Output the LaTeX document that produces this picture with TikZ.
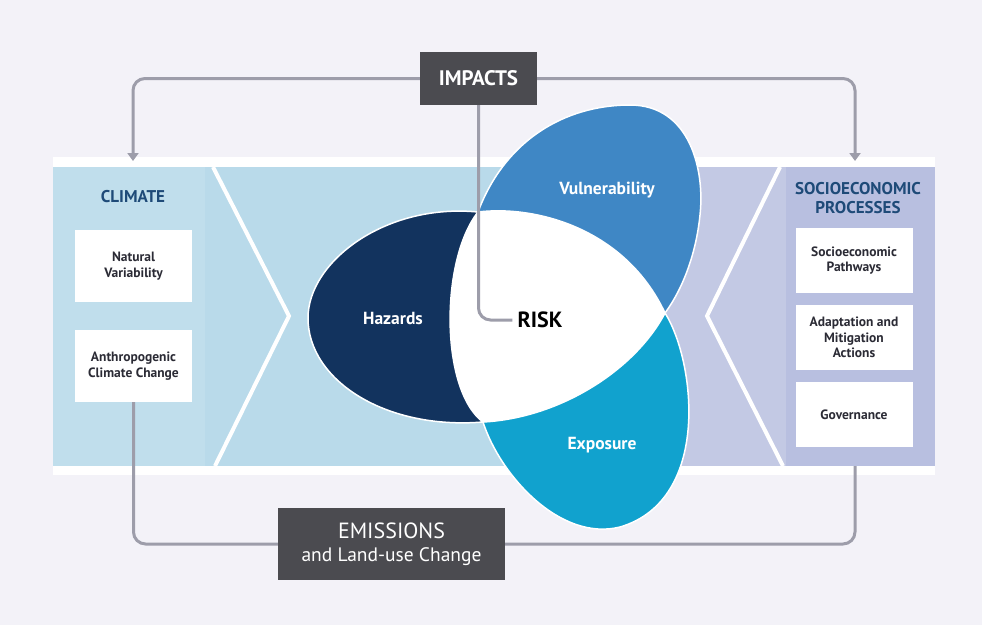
\documentclass[tikz,border=0pt]{standalone}
\usepackage{fontspec}
\setmainfont{PT Sans}
\usepackage{xcolor}
\usetikzlibrary{positioning}
\usetikzlibrary{arrows.meta}
\usetikzlibrary{math}
\usetikzlibrary{calc}

\definecolor{pagebg}{HTML}{F3F2F8}
\definecolor{bandblue}{HTML}{B9DAEA}
\definecolor{climblue}{HTML}{C0DEEC}
\definecolor{bandlilac}{HTML}{C3C9E4}
\definecolor{socililac}{HTML}{B8BFE0}
\definecolor{hazcol}{HTML}{12335E}
\definecolor{vulcol}{HTML}{3F87C5}
\definecolor{expcol}{HTML}{11A2CE}
\definecolor{darkfill}{HTML}{4B4B50}
\definecolor{linkgray}{HTML}{9D9DAA}
\definecolor{titleblue}{HTML}{1E4A78}
\definecolor{boxtext}{HTML}{2B2B35}

\tikzset{
  darkbox/.style={fill=darkfill, text=white, inner sep=0pt, align=center},
  whitebox/.style={fill=white, text=boxtext, inner sep=0pt, align=center,
    minimum width=117pt, font=\bfseries\fontsize{13.5}{15.5}\selectfont},
  paneltitle/.style={text=titleblue, align=center,
    font=\bfseries\fontsize{17}{19}\selectfont},
  blobtext/.style={text=white, font=\bfseries\fontsize{17.5}{19}\selectfont},
  link/.style={draw=linkgray, line width=3pt, rounded corners=12pt},
  chevron/.style={draw=white, line width=4pt},
}

\begin{document}
\begin{tikzpicture}[x=1pt,y=-1pt]

  \tikzmath{
    \bandleft  = 53;  % left edge of the coloured band
    \bandright = 935; % right edge of the coloured band
    \bandtop   = 167; % top of the band
    \bandbot   = 466; % bottom of the band
  }

  \useasboundingbox (0,0) rectangle (982,625);
  \fill[pagebg] (0,0) rectangle (982,625);

  % band with white strips above and below
  \fill[white] (\bandleft,157) rectangle (\bandright,475);
  \fill[bandblue] (\bandleft,\bandtop) rectangle (600,\bandbot);
  \fill[bandlilac] (600,\bandtop) rectangle (\bandright,\bandbot);
  \fill[climblue] (\bandleft,\bandtop) rectangle (205,\bandbot);
  \fill[socililac] (786,\bandtop) rectangle (\bandright,\bandbot);

  % chevrons
  \draw[chevron] (213,\bandtop) -- (289,316) -- (215,\bandbot);
  \draw[chevron] (780,\bandtop) -- (707,316) -- (783,\bandbot);

  % junctions of the three leaves
  \coordinate (T) at (478,212);
  \coordinate (R) at (665,313);
  \coordinate (B) at (483,422);

  % Hazards
  \filldraw[fill=hazcol, draw=white, line width=1.5pt]
    (T) .. controls (385,203) and (308,262) .. (308,318)
        .. controls (308,380) and (385,430) .. (B)
        .. controls (440,390) and (440,260) .. (T) -- cycle;
  % Vulnerability
  \filldraw[fill=vulcol, draw=white, line width=1.5pt]
    (T) .. controls (505,140) and (565,105) .. (630,105)
        .. controls (690,105) and (705,170) .. (700,215)
        .. controls (696,255) and (682,290) .. (R)
        .. controls (625,228) and (535,205) .. (T) -- cycle;
  % Exposure
  \filldraw[fill=expcol, draw=white, line width=1.5pt]
    (R) .. controls (695,360) and (712,500) .. (620,527)
        .. controls (560,542) and (500,475) .. (B)
        .. controls (560,418) and (635,370) .. (R) -- cycle;
  % centre
  \fill[white]
    (T) .. controls (535,205) and (625,228) .. (R)
        .. controls (635,370) and (560,418) .. (B)
        .. controls (440,390) and (440,260) .. (T) -- cycle;

  \node[blobtext] (hazlabel) at (393,318) {Hazards};
  \node[blobtext] (vullabel) at (607,190) {Vulnerability};
  \node[blobtext] (explabel) at (602,445) {Exposure};
  \node[font=\bfseries\fontsize{22}{24}\selectfont, inner sep=5pt]
    (risk) at (540,320) {RISK};

  % climate panel
  \node[paneltitle] (climlabel) at (133,197) {CLIMATE};
  \node[whitebox, minimum height=72pt] (natvar) at (133.5,266)
    {Natural\\Variability};
  \node[whitebox, minimum height=72pt] (anthro) at (133.5,366)
    {Anthropogenic\\Climate Change};

  % socioeconomic panel
  \node[paneltitle] (socilabel) at (858,198) {SOCIOECONOMIC\\PROCESSES};
  \node[whitebox, minimum height=65pt] (sepath) at (854,260.5)
    {Socioeconomic\\Pathways};
  \node[whitebox, minimum height=65pt] (adapt) at (854,337.5)
    {Adaptation and\\Mitigation\\Actions};
  \node[whitebox, minimum height=65pt] (govern) at (854,414.5)
    {Governance};

  % boxes on the loop
  \node[darkbox, minimum width=117pt, minimum height=53pt,
        font=\bfseries\fontsize{21}{23}\selectfont]
    (impacts) at (478.5,78.5) {IMPACTS};
  \node[darkbox, minimum width=227pt, minimum height=72pt,
        font=\fontsize{19.5}{23}\selectfont]
    (emissions) at (391.5,544)
    {{\fontsize{22}{24}\selectfont EMISSIONS}\\and Land-use Change};

  % free ends of the loop
  \coordinate (climtop) at (133,161);
  \coordinate (socitop) at (855,161);
  \coordinate (socibot) at (855,\bandbot);

  \draw[link, -{Triangle[width=11pt,length=8pt]}] (impacts.west) -| (climtop);
  \draw[link, -{Triangle[width=11pt,length=8pt]}] (impacts.east) -| (socitop);
  \draw[link] (anthro.south) |- (emissions.west);
  \draw[link] (emissions.east) -| (socibot);
  \draw[link] (impacts.south) |- (risk.west);

\end{tikzpicture}
\end{document}
